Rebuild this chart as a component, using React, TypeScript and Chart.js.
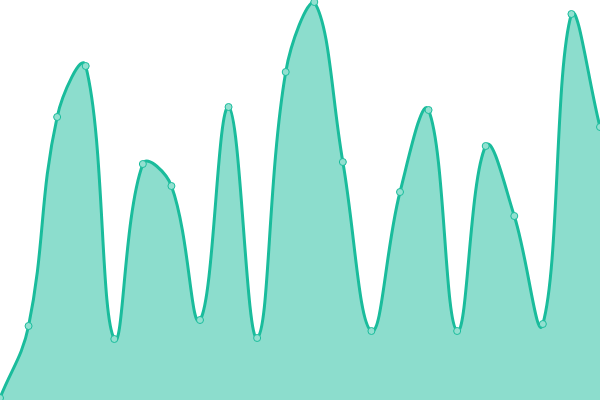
import React, { useEffect, useRef } from "react";
import { Chart, registerables } from "chart.js";

Chart.register(...registerables);

const labels: string[] = [
  "1", "2", "3", "4", "5", "6", "7", "8", "9", "10", "11",
  "12", "13", "14", "15", "16", "17", "18", "19", "20", "21", "22",
];
const values: number[] = [
  2, 74, 283, 334, 61, 236, 214, 80, 293, 62, 328,
  398, 238, 69, 208, 290, 69, 254, 184, 76, 386, 273,
];

export default function App() {
  const ref = useRef<HTMLCanvasElement | null>(null);
  useEffect(() => {
    document.body.style.margin = "0";
    if (!ref.current) return;
    const chart = new Chart(ref.current, {
      type: "line",
      data: {
        labels,
        datasets: [
          {
            data: values,
            borderColor: "#1abc9c",
            backgroundColor: "rgba(26,188,156,0.5)",
            borderWidth: 3,
            fill: true,
            tension: 0.4,
            pointRadius: 3.5,
            pointBorderWidth: 1,
            pointBackgroundColor: "#92e0d0",
            pointBorderColor: "#1abc9c",
          },
        ],
      },
      options: {
        responsive: false,
        animation: false,
        layout: { padding: 0, autoPadding: false },
        plugins: { legend: { display: false }, tooltip: { enabled: false } },
        scales: {
          x: { display: false, offset: false },
          y: { display: false, min: 0, max: 400 },
        },
      },
    });
    return () => chart.destroy();
  }, []);
  return <canvas ref={ref} width={600} height={400} style={{ display: "block" }} />;
}
